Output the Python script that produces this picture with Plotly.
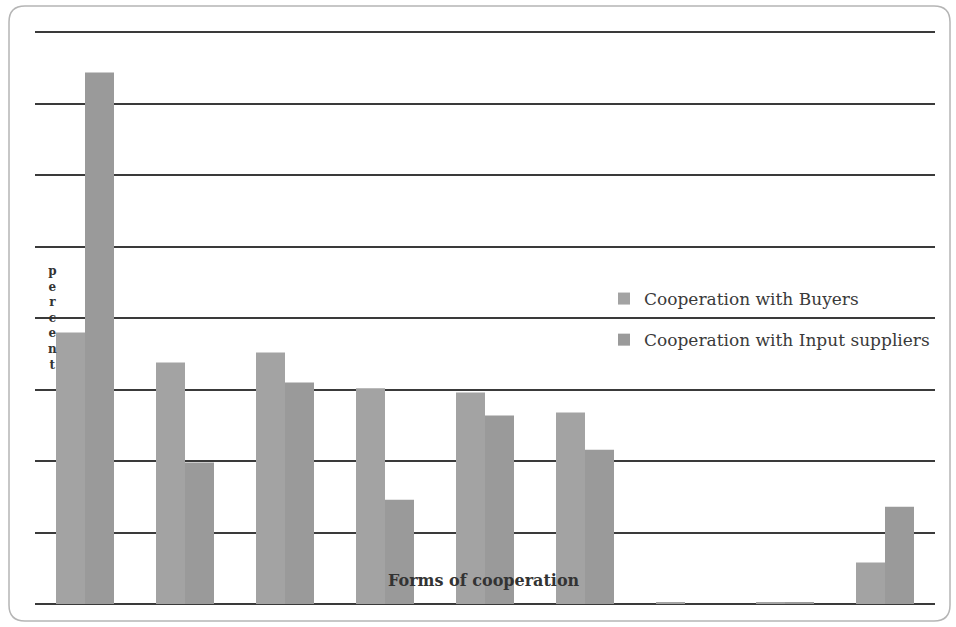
import plotly.graph_objects as go

categories = ["Form 1", "Form 2", "Form 3", "Form 4", "Form 5", "Form 6", "Form 7", "Form 8", "Form 9"]
buyers = [19.0, 16.9, 17.6, 15.1, 14.8, 13.4, 0.1, 0.1, 2.9]
input_suppliers = [37.2, 9.9, 15.5, 7.3, 13.2, 10.8, 0.0, 0.1, 6.8]
series_names = ["Cooperation with Buyers", "Cooperation with Input suppliers"]
y_ticks = [0, 5, 10, 15, 20, 25, 30, 35, 40]

W, H = 956, 627
ML, MR, MT, MB = 35, 21, 31, 23
PW, PH = W - ML - MR, H - MT - MB
Y_TOP = 40.1


def px2paper(x, y):
    return (x - ML) / PW, (H - MB - y) / PH


def rounded_rect(x0, y0, x1, y1, r):
    def p(x, y):
        a, b = px2paper(x, y)
        return f"{a:.5f},{b:.5f}"
    d = f"M {p(x0 + r, y0)} L {p(x1 - r, y0)} Q {p(x1, y0)} {p(x1, y0 + r)} "
    d += f"L {p(x1, y1 - r)} Q {p(x1, y1)} {p(x1 - r, y1)} "
    d += f"L {p(x0 + r, y1)} Q {p(x0, y1)} {p(x0, y1 - r)} "
    d += f"L {p(x0, y0 + r)} Q {p(x0, y0)} {p(x0 + r, y0)} Z"
    return d


fig = go.Figure()
fig.add_trace(go.Bar(x=categories, y=buyers, name=series_names[0],
                     marker=dict(color="#a3a3a3", line=dict(width=0)), legendgroup="a"))
fig.add_trace(go.Bar(x=categories, y=input_suppliers, name=series_names[1],
                     marker=dict(color="#9a9a9a", line=dict(width=0)), legendgroup="b"))

serif = "DejaVu Serif"
lx, ly = px2paper(604, 281)
tx, ty = px2paper(484, 592)
yx, yy = px2paper(46, 318)

fig.update_layout(
    width=W, height=H,
    margin=dict(l=ML, r=MR, t=MT, b=MB, pad=0),
    paper_bgcolor="white", plot_bgcolor="white",
    barmode="group", bargap=0.42, bargroupgap=0,
    xaxis=dict(showticklabels=False, showgrid=False, showline=False, zeroline=False, ticks=""),
    yaxis=dict(range=[0, Y_TOP], tickvals=y_ticks, showticklabels=False, showgrid=True,
               gridcolor="#3a3a3a", gridwidth=2, zeroline=True, zerolinecolor="#3a3a3a",
               zerolinewidth=2, showline=False, ticks=""),
    showlegend=True,
    legend=dict(x=lx, y=ly, xanchor="left", yanchor="top", bgcolor="rgba(0,0,0,0)",
                font=dict(family=serif, size=17, color="#3a3a3a"), tracegroupgap=16,
                traceorder="grouped", itemwidth=30),
    font=dict(family=serif, color="#333333"),
    shapes=[dict(type="path", xref="paper", yref="paper",
                 path=rounded_rect(9, 6, 950, 621, 16),
                 line=dict(color="#b5b5b5", width=1.5), layer="below")],
    annotations=[
        dict(text="<b>Forms of cooperation</b>", x=tx, y=ty, xref="paper", yref="paper",
             showarrow=False, font=dict(family=serif, size=16, color="#333333")),
        dict(text="<b>p<br>e<br>r<br>c<br>e<br>n<br>t</b>", x=yx, y=yy, xref="paper", yref="paper",
             showarrow=False, font=dict(family=serif, size=12, color="#333333")),
    ],
)

fig.write_html("out.html")
